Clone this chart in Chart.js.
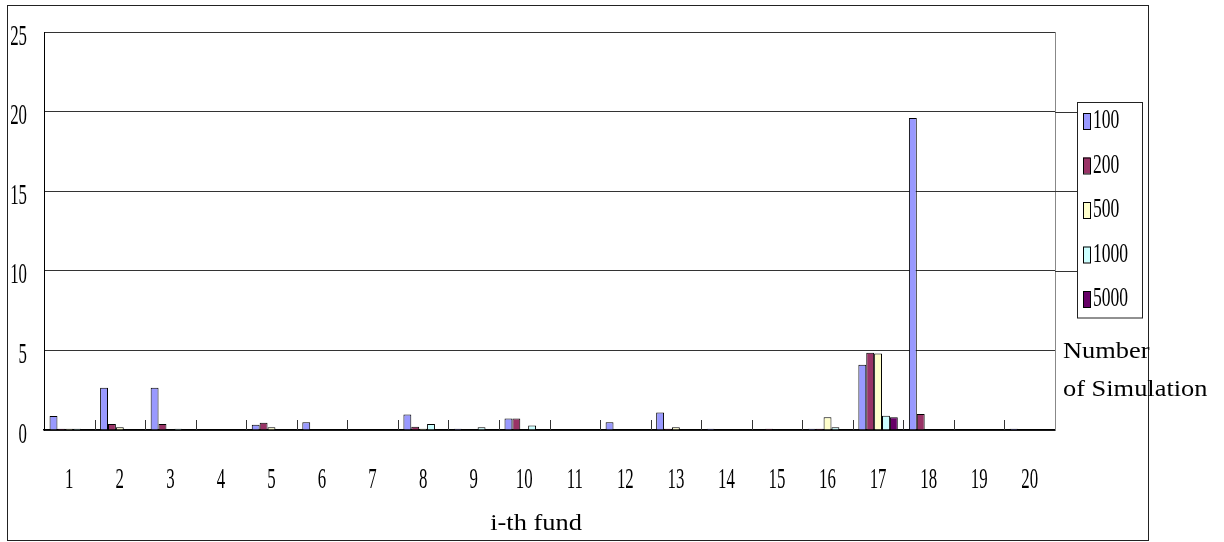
<!DOCTYPE html>
<html><head><meta charset="utf-8">
<script src="https://cdn.jsdelivr.net/npm/chart.js@4.4.1/dist/chart.umd.min.js"></script>
<style>html,body{margin:0;padding:0;background:#fff}#wrap{width:1224px;height:542px;position:relative}</style>
</head><body><div id="wrap"><canvas id="c" width="1224" height="542"></canvas></div>
<script>
const categories = ['1','2','3','4','5','6','7','8','9','10','11','12','13','14','15','16','17','18','19','20'];
const seriesNames = ['100','200','500','1000','5000'];
const s100  = [0.88, 2.65, 2.65, 0, 0.33, 0.48, 0, 0.98, 0.08, 0.73, 0, 0.48, 1.1, 0.08, 0, 0.08, 4.1, 19.6, 0, 0.08];
const s200  = [0.08, 0.37, 0.37, 0, 0.45, 0, 0, 0.2, 0, 0.73, 0, 0, 0.08, 0, 0.08, 0.08, 4.86, 1.0, 0, 0];
const s500  = [0.08, 0.18, 0, 0, 0.18, 0, 0, 0.08, 0, 0, 0, 0, 0.18, 0, 0, 0.8, 4.8, 0, 0, 0];
const s1000 = [0.08, 0, 0.08, 0, 0, 0, 0, 0.37, 0.18, 0.29, 0, 0, 0, 0, 0, 0.18, 0.9, 0, 0, 0];
const s5000 = [0, 0, 0, 0, 0, 0, 0, 0, 0, 0, 0, 0, 0, 0, 0, 0, 0.8, 0, 0, 0];
const seriesColors = ['#9999FF', '#993366', '#FFFFCC', '#CCFFFF', '#660066'];
const yTicks = [0, 5, 10, 15, 20, 25];
const xTitle = 'i-th fund';
const legendTitle = ['Number', 'of Simulation'];

const serif = '"Liberation Serif", serif';
function txt(ctx, text, x, y, size, sx, align) {
  ctx.save();
  ctx.font = size + 'px ' + serif;
  ctx.fillStyle = '#000';
  ctx.textBaseline = 'middle';
  ctx.textAlign = align;
  ctx.translate(x, y);
  ctx.scale(sx, 1);
  ctx.fillText(text, 0, 0);
  ctx.restore();
}

const decor = {
  id: 'decor',
  afterDraw(chart) {
    const ctx = chart.ctx, a = chart.chartArea;
    const xs = chart.scales.x, ys = chart.scales.y;
    ctx.save();
    ctx.strokeStyle = '#222'; ctx.lineWidth = 1;
    ctx.strokeRect(7.5, 5.5, 1141, 535);
    ctx.strokeStyle = '#888';
    ctx.beginPath(); ctx.moveTo(Math.round(a.right) + 0.5, a.top); ctx.lineTo(Math.round(a.right) + 0.5, a.bottom); ctx.stroke();
    ctx.strokeStyle = '#333';
    [10, 15, 20].forEach(v => {
      const y = Math.round(ys.getPixelForValue(v)) + 0.5;
      ctx.beginPath(); ctx.moveTo(a.right, y); ctx.lineTo(1077, y); ctx.stroke();
    });
    for (let i = 1; i < categories.length; i++) {
      const x = Math.round((xs.getPixelForValue(i - 1) + xs.getPixelForValue(i)) / 2) + 0.5;
      ctx.beginPath(); ctx.moveTo(x, a.bottom); ctx.lineTo(x, a.bottom - 10); ctx.stroke();
    }
    ctx.restore();
    yTicks.forEach(v => txt(ctx, String(v), 27, ys.getPixelForValue(v) + 5, 29, 0.58, 'right'));
    categories.forEach((c, i) => txt(ctx, c, xs.getPixelForValue(i), 480, 29, 0.58, 'center'));
    txt(ctx, xTitle, 536, 524, 24, 1.1, 'center');
    ctx.save();
    ctx.strokeStyle = '#222'; ctx.lineWidth = 1;
    ctx.strokeRect(1077.5, 102.5, 65, 215.5);
    chart.data.datasets.forEach((ds, i) => {
      const cy = 121 + i * 44.5;
      ctx.fillStyle = ds.backgroundColor;
      ctx.fillRect(1083, cy - 8, 7, 16);
      ctx.strokeStyle = '#000';
      ctx.strokeRect(1083.5, cy - 7.5, 7, 16);
      txt(ctx, ds.label, 1093, cy, 27, 0.65, 'left');
    });
    ctx.restore();
    txt(ctx, legendTitle[0], 1063, 352, 24, 1.1, 'left');
    txt(ctx, legendTitle[1], 1063, 390, 24, 1.1, 'left');
  }
};

const allSeries = [s100, s200, s500, s1000, s5000];
function build() {
  new Chart(document.getElementById('c'), {
    type: 'bar',
    data: {
      labels: categories,
      datasets: allSeries.map((d, i) => ({
        label: seriesNames[i], data: d,
        backgroundColor: seriesColors[i], borderColor: '#000', borderWidth: 1,
        categoryPercentage: 0.78, barPercentage: 1.0
      }))
    },
    options: {
      responsive: false, animation: false,
      layout: { padding: { left: 44, top: 32, right: 169, bottom: 112 } },
      plugins: { legend: { display: false }, tooltip: { enabled: false } },
      scales: {
        x: {
          grid: { display: false, drawTicks: false },
          border: { display: true, color: '#000', width: 1.5 },
          ticks: { display: false }
        },
        y: {
          min: 0, max: 25,
          ticks: { display: false, stepSize: 5 },
          grid: { color: '#333', lineWidth: 1, drawTicks: false },
          border: { display: true, color: '#000', width: 1 }
        }
      }
    },
    plugins: [decor]
  });
}
Promise.all([
  document.fonts.load('24px "Liberation Serif"', 'Number 0123'),
  document.fonts.ready
]).then(build, build);
</script>
</body></html>
